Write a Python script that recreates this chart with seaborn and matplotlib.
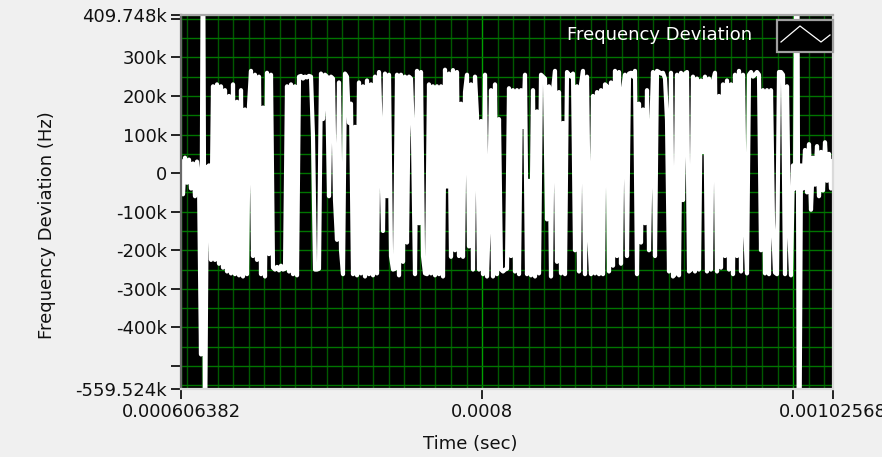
import numpy as np
import pandas as pd
import matplotlib
matplotlib.use("Agg")
import matplotlib.pyplot as plt
import seaborn as sns
from matplotlib.patches import Rectangle
from matplotlib.lines import Line2D
from matplotlib.ticker import MultipleLocator

# ---------------- data (values in kHz) ----------------
t_start = 0.000606382
t_end = 0.00102568
y_min_k = -559.524
y_max_k = 409.748

lead_in_k = [30, -55, 40, -25, 35, -40, 25, -60, 30, -20, -470, 700, -700, 15, 20, -225]

fsk_burst_k = [
    225, -225, 230, -235, 225, -245, 215, -255, 200, -260, 230, -262, 185, -265, 215, -268, 165, -262, 175,
    265, -215, 255, -225, 250, -262, 170, -268, 260, -210, 255, -245, -250, -243, -252, -240, -250, -248, 225, -255,
    230, -262, 225, -265, 250, 252, 245, 250, 248, 252, 250, 95, -250, -250, -248, 258, 140, 255, 250, -60,
    250, 245, -70, -173, 235, -200, -262, 258, 250, 130, 180, -262, 120, -265, 235, -260, 225, -268, 240, -262,
    230, -265, 250, -260, 262, 80, -150, 258, -60, 255, -215, -250, -248, 255, -265, 255, -230, 250, -180, 250,
    245, 94, -262, 265, -130, 262, -215, -260, -262, 230, -260, 225, -265, 225, -262, 225, -268, 268, -35, 258,
    -217, 267, -200, 262, -215, 180, -217, 210, 255, -190, 230, -250, 250, 150, -250, 135, -262, 255, -268, -105,
    215, -268, 230, -262, 140, -250, -255, -250, -248, 220, -215, 215, -255, 215, -262, 215, 120, 255, -262, -20,
    -265, 215, -268, 160, -260, 255, 250, 245, -120, 225, -268, 215, 265, -230, 210, -260, 130, -262, 262, 255,
    250, 258, -200, 225, -255, 230, 265, -262, 250, -150, -262, 200, -260, 210, -262, 215, -262, 230, 225, -255,
    235, -240, 265, -215, 262, -235, 215, 255, -215, 258, 260, 250, 265, -262, 180, -180, 165, -130, 215, -200,
    95, 262, -215, 265, 262, 258, 260, 245, 138, -255, 260, -268, -262, 255, -265, 260, -70, 258, 262, -255,
    -250, 250, -255, 245, -250, 240, 55, 250, -255, 245, -250, 238, 260, -255, 200, -245, 230, -215, 240, -250,
    230, -262, 255, -215, 265, -255, 255, -130, -260, 255, 262, 250, 255, 262, 255, -200, 215, -260, 215, -262,
    215, -130, -258, -262, 262, 262, 255, -262, 225, -130, -265,
]

tail_k = [20, -40, 900, -900, 20, -40, 60, -50, 75, -95, 40, -30, 70, -60, 55, -45, 80, -20, 50, -40, 30]

x_tick_values = [0.000606382, 0.0008, 0.001, 0.00102568]
x_tick_labels = ["0.000606382", "0.0008", "", "0.00102568"]
y_tick_values_k = [409.748, 400, 300, 200, 100, 0, -100, -200, -300, -400, -500, -559.524]
y_tick_labels = ["409.748k", "", "300k", "200k", "100k", "0", "-100k", "-200k",
                 "-300k", "-400k", "", "-559.524k"]
legend_label = "Frequency Deviation"
x_label = "Time (sec)"
y_label = "Frequency Deviation (Hz)"

# ---------------- build frame ----------------
values_hz = np.array(lead_in_k + fsk_burst_k + tail_k, dtype=float) * 1000.0
time_s = np.linspace(t_start, t_end, len(values_hz))
df = pd.DataFrame({"time": time_s, "dev": values_hz})

plt.rcParams["font.family"] = ["DejaVu Sans"]
plt.rcParams["path.simplify"] = False
FS = 13

W, H = 882, 457
fig = plt.figure(figsize=(W / 100, H / 100), dpi=100)
fig.patch.set_facecolor("#F0F0F0")

L, R, T, B = 181, 833, 15, 389
ax = fig.add_axes([L / W, 1 - B / H, (R - L) / W, (B - T) / H])
ax.set_facecolor("black")

sns.lineplot(data=df, x="time", y="dev", ax=ax, color="white", linewidth=3.0,
             estimator=None, sort=False, legend=False, zorder=3)

ax.set_xlim(t_start, t_end)
ax.set_ylim(y_min_k * 1000, y_max_k * 1000)

ax.set_xticks(x_tick_values)
ax.set_xticklabels(x_tick_labels)
ax.set_yticks([v * 1000 for v in y_tick_values_k])
ax.set_yticklabels(y_tick_labels)
ax.xaxis.set_minor_locator(MultipleLocator(0.00001))
ax.yaxis.set_minor_locator(MultipleLocator(50000))

ax.tick_params(axis="both", which="major", direction="out", length=7, width=1.2,
               color="black", labelsize=FS, labelcolor="#111111", pad=3)
ax.tick_params(axis="both", which="minor", length=0)

# grid
ax.set_axisbelow(True)
ax.xaxis.grid(True, which="minor", color="#005800", linewidth=1.0, zorder=1)
ax.xaxis.grid(True, which="major", color="#00A000", linewidth=1.0, zorder=1)
ax.yaxis.grid(True, which="both", color="#007400", linewidth=1.0, zorder=1)

# frame (sunken look)
ax.spines["left"].set_color("#6A6A6A")
ax.spines["top"].set_color("#A8A8A8")
ax.spines["right"].set_color("#DADADA")
ax.spines["bottom"].set_color("#DADADA")
for s in ax.spines.values():
    s.set_linewidth(1.6)
    s.set_zorder(6)

ax.set_xlabel(x_label, fontsize=FS, color="#111111")
ax.set_ylabel(y_label, fontsize=FS, color="#111111")
ax.xaxis.set_label_coords((470 - L) / (R - L), -(435 - B) / (B - T))
ax.yaxis.set_label_coords(-(L - 56) / (R - L), 1 - (225 - T) / (B - T))

# legend (LabVIEW style plot legend)
def ax_x(px):
    return (px - L) / (R - L)

def ax_y(py):
    return 1 - (py - T) / (B - T)

ax.text(ax_x(752), ax_y(35), legend_label, transform=ax.transAxes, ha="right",
        va="center", color="white", fontsize=FS, zorder=8)
ax.add_patch(Rectangle((ax_x(777), ax_y(52)), ax_x(833) - ax_x(777), ax_y(20) - ax_y(52),
                       transform=ax.transAxes, facecolor="black", edgecolor="#A0A0A0",
                       linewidth=1.6, zorder=9, clip_on=False))
ax.add_line(Line2D([ax_x(781), ax_x(800), ax_x(821), ax_x(830)],
                   [ax_y(42), ax_y(26), ax_y(42), ax_y(35)],
                   transform=ax.transAxes, color="white", linewidth=0.9, zorder=10))

fig.savefig("out.png", dpi=100, facecolor=fig.get_facecolor())
